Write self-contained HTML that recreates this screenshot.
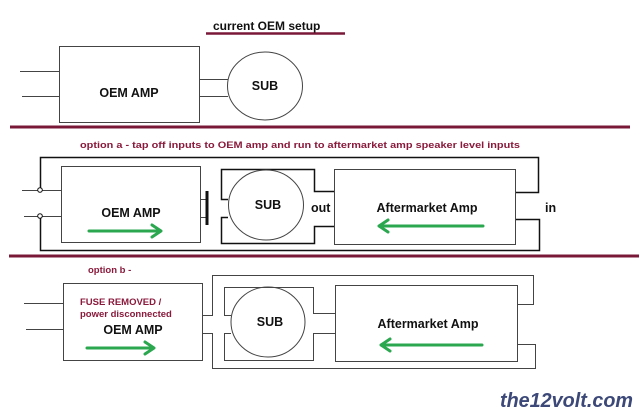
<!DOCTYPE html>
<html><head><meta charset="utf-8"><style>
html,body{margin:0;padding:0;background:#fff;}
svg{display:block;}
text{font-family:"Liberation Sans",Arial,sans-serif;font-weight:bold;}
</style></head><body>
<svg width="640" height="412" viewBox="0 0 640 412" xmlns="http://www.w3.org/2000/svg">
<g fill="none" stroke="#444" stroke-width="1">
<!-- top -->
<rect x="59.5" y="46.5" width="140" height="76"/>
<line x1="20" y1="71.5" x2="59" y2="71.5"/>
<line x1="22" y1="96.5" x2="59" y2="96.5"/>
<line x1="200" y1="79.5" x2="228" y2="79.5"/>
<line x1="200" y1="96.5" x2="228" y2="96.5"/>
<ellipse cx="265" cy="86" rx="37.5" ry="34"/>
<!-- option a -->
<rect x="61.5" y="166.5" width="139" height="76"/>
<line x1="22" y1="190.5" x2="61" y2="190.5"/>
<line x1="24" y1="216.5" x2="61" y2="216.5"/>
<path d="M40.5 190 V157.5 H538.5 V192.5 H515" stroke="#111" stroke-width="1.5"/>
<path d="M40.5 216 V250.5 H539.5 V219.5 H515" stroke="#111" stroke-width="1.5"/>
<line x1="200" y1="199.5" x2="207" y2="199.5"/>
<line x1="200" y1="217.5" x2="207" y2="217.5"/>
<path d="M228 199.5 H221.5 V169.5 H314.5 V191.5 H334" stroke="#111" stroke-width="1.5"/>
<path d="M228 217.5 H221.5 V243.5 H314.5 V226.5 H334" stroke="#111" stroke-width="1.5"/>
<ellipse cx="266" cy="205" rx="37.5" ry="35"/>
<rect x="334.5" y="169.5" width="181" height="75"/>
<!-- option b -->
<rect x="63.5" y="283.5" width="139" height="77"/>
<line x1="24" y1="303.5" x2="63" y2="303.5"/>
<line x1="26" y1="329.5" x2="63" y2="329.5"/>
<path d="M203 315.5 H212.5 V275.5 H533.5 V304.5 H517"/>
<path d="M203 333.5 H212.5 V368.5 H535.5 V344.5 H517"/>
<path d="M231 315.5 H224.5 V287.5 H313.5 V313.5 H335"/>
<path d="M231 333.5 H224.5 V360.5 H313.5 V333.5 H335"/>
<ellipse cx="268" cy="322" rx="37" ry="35"/>
<rect x="335.5" y="285.5" width="182" height="76"/>
</g>
<circle cx="40" cy="190" r="2.3" fill="#fff" stroke="#111" stroke-width="1"/>
<circle cx="40" cy="216" r="2.3" fill="#fff" stroke="#111" stroke-width="1"/>
<line x1="207" y1="191" x2="207" y2="225" stroke="#111" stroke-width="3"/>
<!-- red lines -->
<line x1="206" y1="33.5" x2="345" y2="33.5" stroke="#7a1838" stroke-width="2.5"/>
<line x1="10" y1="127" x2="630" y2="127" stroke="#7a1838" stroke-width="3"/>
<line x1="9" y1="256" x2="639" y2="256" stroke="#7a1838" stroke-width="3"/>
<!-- green arrows -->
<g stroke="#2aa74f" stroke-width="3" fill="none" stroke-linecap="round" stroke-linejoin="round">
<line x1="89" y1="231" x2="160" y2="231"/><path d="M152 225 L161 231 L152 237"/>
<line x1="380" y1="226" x2="483" y2="226"/><path d="M388 220 L379 226 L388 232"/>
<line x1="87" y1="348" x2="153" y2="348"/><path d="M145 342 L154 348 L145 354"/>
<line x1="382" y1="345" x2="482" y2="345"/><path d="M390 339 L381 345 L390 351"/>
</g>
<!-- text -->
<text x="213" y="30" font-size="12" fill="#111">current OEM setup</text>
<text x="129" y="97" font-size="12.5" text-anchor="middle" fill="#111">OEM AMP</text>
<text x="265" y="90" font-size="12.5" text-anchor="middle" fill="#111">SUB</text>
<text x="80" y="148" font-size="9" fill="#8a1a3c" textLength="440" lengthAdjust="spacingAndGlyphs">option a - tap off inputs to OEM amp and run to aftermarket amp speaker level inputs</text>
<text x="131" y="217" font-size="12.5" text-anchor="middle" fill="#111">OEM AMP</text>
<text x="268" y="209" font-size="12.5" text-anchor="middle" fill="#111">SUB</text>
<text x="311" y="212" font-size="12.5" fill="#111">out</text>
<text x="427" y="212" font-size="12.5" text-anchor="middle" fill="#111">Aftermarket Amp</text>
<text x="545" y="212" font-size="12.5" fill="#111">in</text>
<text x="88" y="273" font-size="9.5" fill="#8a1a3c">option b -</text>
<text x="80" y="305" font-size="9.5" fill="#8a1a3c">FUSE REMOVED /</text>
<text x="80" y="317" font-size="9.5" fill="#8a1a3c">power disconnected</text>
<text x="133" y="334" font-size="12.5" text-anchor="middle" fill="#111">OEM AMP</text>
<text x="270" y="326" font-size="12.5" text-anchor="middle" fill="#111">SUB</text>
<text x="428" y="328" font-size="12.5" text-anchor="middle" fill="#111">Aftermarket Amp</text>
<text x="500" y="407" font-size="20" font-style="italic" fill="#3c4878" textLength="133" lengthAdjust="spacingAndGlyphs">the12volt.com</text>
</svg>
</body></html>
